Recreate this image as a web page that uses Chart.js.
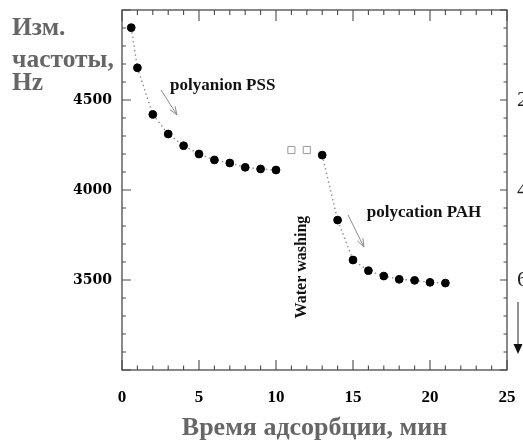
<!DOCTYPE html>
<html>
<head>
<meta charset="utf-8">
<script src="https://cdn.jsdelivr.net/npm/chart.js@4.4.1/dist/chart.umd.min.js"></script>
<style>
html,body{margin:0;padding:0;background:#fff;}
#wrap{width:523px;height:441px;position:relative;}
</style>
</head>
<body>
<div id="wrap"><canvas id="c" width="523" height="441"></canvas></div>
<script>
// ---- data ----
const pssTime = [0.6, 1, 2, 3, 4, 5, 6, 7, 8, 9, 10];
const pssFreq = [4902, 4679, 4420, 4311, 4246, 4200, 4167, 4150, 4126, 4117, 4111];
const washTime = [11, 12];
const washFreq = [4222, 4222];
const pahTime = [13, 14, 15, 16, 17, 18, 19, 20, 21];
const pahFreq = [4194, 3833, 3611, 3552, 3522, 3504, 3498, 3487, 3483];
const xTicks = [0, 5, 10, 15, 20, 25];
const yTicks = [3500, 4000, 4500];
const rightTicks = [20, 40, 60];
const xTitle = 'Время адсорбции, мин';
const yTitle = ['Изм.', 'частоты,', 'Hz'];

const toPts = (xs, ys) => xs.map((x, i) => ({x: x, y: ys[i]}));
const noPad = s => { s.paddingTop = 0; s.paddingBottom = 0; s.paddingLeft = 0; s.paddingRight = 0; };

const frameTicks = {
  id: 'frameTicks',
  beforeDatasetsDraw(chart) {
    const {ctx, chartArea: a, scales: {x, y}} = chart;
    ctx.save();
    ctx.strokeStyle = '#4a4a4a';
    ctx.lineWidth = 1.3;
    ctx.strokeRect(a.left, a.top, a.right - a.left, a.bottom - a.top);
    ctx.lineWidth = 1.1;
    ctx.beginPath();
    for (let v = x.min; v <= x.max; v += 1) {
      const px = x.getPixelForValue(v);
      const major = v % 5 === 0;
      const lb = major ? 10 : 4.5, lt = major ? 11 : 5;
      ctx.moveTo(px, a.bottom); ctx.lineTo(px, a.bottom - lb);
      ctx.moveTo(px, a.top); ctx.lineTo(px, a.top + lt);
    }
    for (let v = y.min; v <= y.max; v += 100) {
      const py = y.getPixelForValue(v);
      const major = v % 500 === 0;
      const l = major ? 9 : 4;
      ctx.moveTo(a.left, py); ctx.lineTo(a.left + l, py);
      ctx.moveTo(a.right, py); ctx.lineTo(a.right - (major ? 7 : 3.5), py);
    }
    ctx.stroke();
    ctx.restore();
  },
  afterDraw(chart) {
    const {ctx, chartArea: a, scales: {x, y}} = chart;
    ctx.save();
    // y axis title, top-left
    ctx.fillStyle = '#666';
    ctx.font = 'bold 25.5px "Liberation Serif"';
    ctx.textBaseline = 'alphabetic';
    ctx.textAlign = 'left';
    const base = [35, 67, 90];
    yTitle.forEach((t, i) => ctx.fillText(t, 12, base[i]));

    // annotations
    ctx.fillStyle = '#111';
    ctx.font = 'bold 17px "Liberation Serif"';
    ctx.textBaseline = 'middle';
    ctx.fillText('polyanion PSS', x.getPixelForValue(3.12), y.getPixelForValue(4578));
    ctx.fillText('polycation PAH', x.getPixelForValue(15.9), y.getPixelForValue(3872));

    ctx.save();
    ctx.translate(x.getPixelForValue(11.69), y.getPixelForValue(3572));
    ctx.rotate(-Math.PI / 2);
    ctx.textAlign = 'center';
    ctx.font = 'bold 16px "Liberation Serif"';
    ctx.fillText('Water washing', 0, 0);
    ctx.restore();

    // grey annotation arrows
    const arrow = (x1, y1, x2, y2) => {
      const X1 = x.getPixelForValue(x1), Y1 = y.getPixelForValue(y1);
      const X2 = x.getPixelForValue(x2), Y2 = y.getPixelForValue(y2);
      const ang = Math.atan2(Y2 - Y1, X2 - X1);
      ctx.strokeStyle = '#8a8a8a';
      ctx.lineWidth = 1;
      ctx.beginPath();
      ctx.moveTo(X1, Y1); ctx.lineTo(X2, Y2);
      const h = 9;
      ctx.moveTo(X2, Y2);
      ctx.lineTo(X2 - h * Math.cos(ang - 0.35), Y2 - h * Math.sin(ang - 0.35));
      ctx.moveTo(X2, Y2);
      ctx.lineTo(X2 - h * Math.cos(ang + 0.35), Y2 - h * Math.sin(ang + 0.35));
      ctx.stroke();
    };
    arrow(2.53, 4556, 3.57, 4417);
    arrow(14.68, 3861, 15.71, 3683);

    // right-edge downward arrow (cropped original axis)
    const ax = a.right + 11;
    const ay1 = y.getPixelForValue(3378), ay2 = y.getPixelForValue(3094);
    ctx.strokeStyle = '#222';
    ctx.fillStyle = '#111';
    ctx.lineWidth = 1;
    ctx.beginPath(); ctx.moveTo(ax, ay1); ctx.lineTo(ax, ay2 - 8); ctx.stroke();
    ctx.beginPath();
    ctx.moveTo(ax - 4.5, ay2 - 9); ctx.lineTo(ax + 4.5, ay2 - 9); ctx.lineTo(ax, ay2 + 1); ctx.closePath();
    ctx.fill();
    ctx.restore();
  }
};

new Chart(document.getElementById('c'), {
  type: 'scatter',
  data: {
    datasets: [
      {data: toPts(pssTime, pssFreq), showLine: true, borderColor: '#909090', borderWidth: 1.4, borderDash: [1.5, 3],
       pointRadius: 3.9, pointBackgroundColor: '#000', pointBorderColor: '#000', pointBorderWidth: 1},
      {data: toPts(washTime, washFreq), showLine: false, pointStyle: 'rect', pointRadius: 5,
       pointBackgroundColor: '#fff', pointBorderColor: '#9a9a9a', pointBorderWidth: 1},
      {data: toPts(pahTime, pahFreq), showLine: true, borderColor: '#909090', borderWidth: 1.4, borderDash: [1.5, 3],
       pointRadius: 3.9, pointBackgroundColor: '#000', pointBorderColor: '#000', pointBorderWidth: 1}
    ]
  },
  options: {
    responsive: false,
    animation: false,
    devicePixelRatio: 1,
    layout: {padding: {top: 10, left: 0, right: 0, bottom: 0}},
    plugins: {legend: {display: false}, tooltip: {enabled: false}},
    scales: {
      x: {
        type: 'linear', min: 0, max: 25, position: 'bottom',
        afterBuildTicks: s => { s.ticks = xTicks.map(v => ({value: v})); },
        afterFit: s => { s.height = 71; noPad(s); },
        grid: {display: false, drawTicks: false}, border: {display: false},
        ticks: {color: '#000', padding: 17, maxRotation: 0, autoSkip: false,
                callback: v => String(v),
                font: {family: '"Liberation Serif"', weight: 'bold', size: 17}},
        title: {display: true, text: xTitle, color: '#666', padding: {top: 0, bottom: 0},
                font: {family: '"Liberation Serif"', weight: 'bold', size: 26, lineHeight: 1}}
      },
      y: {
        type: 'linear', min: 3000, max: 5000, position: 'left',
        afterBuildTicks: s => { s.ticks = yTicks.map(v => ({value: v})); },
        afterFit: s => { s.width = 122; noPad(s); },
        grid: {display: false, drawTicks: false}, border: {display: false},
        ticks: {color: '#000', padding: 10, autoSkip: false,
                callback: v => String(v),
                font: {family: '"DejaVu Serif"', weight: 'bold', size: 14}}
      },
      y2: {
        type: 'linear', min: 0, max: 80, reverse: true, position: 'right',
        afterBuildTicks: s => { s.ticks = rightTicks.map(v => ({value: v})); },
        afterFit: s => { s.width = 16; noPad(s); },
        grid: {display: false, drawTicks: false}, border: {display: false},
        ticks: {color: '#222', padding: 10, autoSkip: false,
                callback: v => String(v),
                font: {family: '"Liberation Serif"', size: 22}}
      }
    }
  },
  plugins: [frameTicks]
});
</script>
</body>
</html>
